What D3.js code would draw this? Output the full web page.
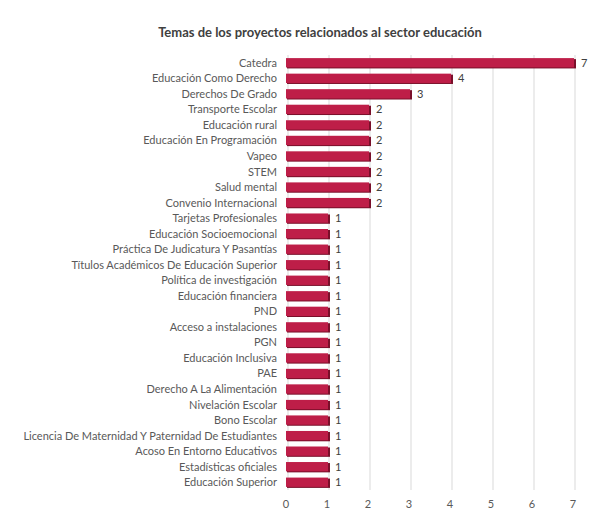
<!DOCTYPE html><html><head><meta charset="utf-8"><script src="https://cdn.jsdelivr.net/npm/d3@7"></script>
<style>body{margin:0;background:#fff}text{font-family:Lato,"Open Sans",sans-serif}</style></head><body><svg id="c" width="601" height="519"></svg>
<script>
const categories=["Catedra","Educación Como Derecho","Derechos De Grado","Transporte Escolar","Educación rural","Educación En Programación","Vapeo","STEM","Salud mental","Convenio Internacional","Tarjetas Profesionales","Educación Socioemocional","Práctica De Judicatura Y Pasantías","Títulos Académicos De Educación Superior","Política de investigación","Educación financiera","PND","Acceso a instalaciones","PGN","Educación Inclusiva","PAE","Derecho A La Alimentación","Nivelación Escolar","Bono Escolar","Licencia De Maternidad Y Paternidad De Estudiantes","Acoso En Entorno Educativos","Estadísticas oficiales","Educación Superior"];
const values=[7,4,3,2,2,2,2,2,2,2,1,1,1,1,1,1,1,1,1,1,1,1,1,1,1,1,1,1];
const ticks=[0,1,2,3,4,5,6,7];
const svg=d3.select("#c");
const x=d3.scaleLinear().domain([0,7]).range([288,575]);
const y=d3.scaleBand().domain(categories).range([55,490]).paddingInner(0.4).paddingOuter(0.2);
svg.append("text").attr("x",320).attr("y",37).attr("text-anchor","middle").attr("font-size",13).attr("font-weight","bold").attr("fill","#404040").text("Temas de los proyectos relacionados al sector educación");
svg.append("g").selectAll("line").data(ticks).join("line").attr("x1",d=>x(d)).attr("x2",d=>x(d)).attr("y1",55).attr("y2",490).attr("stroke","#d9d9d9");
const g=svg.append("g");
g.selectAll(".s").data(values).join("rect").attr("x",x(0)-1).attr("y",(d,i)=>y(categories[i])+1).attr("width",d=>x(d)-x(0)+2).attr("height",y.bandwidth()).attr("fill","#7a0f2a");
g.selectAll(".b").data(values).join("rect").attr("x",x(0)-2).attr("y",(d,i)=>y(categories[i])).attr("width",d=>x(d)-x(0)+1).attr("height",y.bandwidth()).attr("fill","#be1e48");
g.selectAll(".v").data(values).join("text").attr("x",d=>x(d)+6).attr("y",(d,i)=>y(categories[i])+y.bandwidth()/2+4).attr("font-size",11).attr("fill","#404040").text(d=>d);
g.selectAll(".l").data(categories).join("text").attr("x",277).attr("y",d=>y(d)+y.bandwidth()/2+4).attr("text-anchor","end").attr("font-size",11).attr("fill","#595959").text(d=>d);
svg.append("g").selectAll("text").data(ticks).join("text").attr("x",d=>x(d)-2).attr("y",508).attr("text-anchor","middle").attr("font-size",11).attr("fill","#595959").text(d=>d);
</script></body></html>
